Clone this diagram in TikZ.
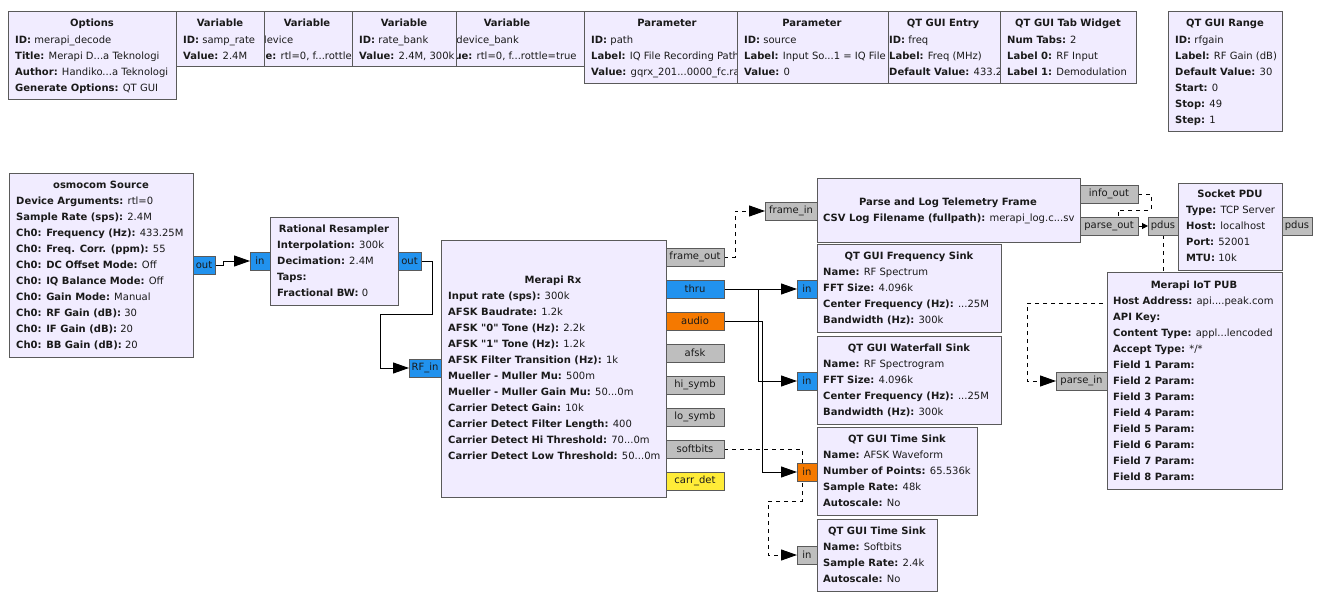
\documentclass[tikz,border=0pt]{standalone}
\usepackage{fontspec}
\newfontfamily\gfont{DejaVu Sans}
\usetikzlibrary{arrows.meta}
\pgfdeclarelayer{bg}
\pgfdeclarelayer{wires}
\pgfsetlayers{bg,wires,main}
\definecolor{blkfill}{HTML}{F1ECFF}
\definecolor{blkline}{HTML}{5A5A5A}
\definecolor{pblue}{RGB}{33,146,238}
\definecolor{porange}{RGB}{245,121,0}
\definecolor{pgray}{RGB}{190,190,190}
\definecolor{pyellow}{RGB}{255,236,56}
\definecolor{txt}{HTML}{1A1A1A}
\newcommand\gf{\gfont\fontsize{10}{16}\selectfont}
\newcommand\kv[2]{\textbf{#1:} #2}
\tikzset{
  blk/.style={draw=blkline, fill=blkfill, line width=1pt, inner sep=0pt, outer sep=0pt, anchor=north west},
  prt/.style={draw=blkline, line width=1pt, inner sep=0pt, outer sep=0pt, anchor=north west, font=\gf, text=txt},
  ttl/.style={anchor=base, inner sep=0pt, font=\gf\bfseries, text=txt},
  body/.style={anchor=north west, align=left, inner sep=0pt, font=\gf, text=txt},
  wire/.style={draw=black, line width=1pt},
  msg/.style={wire, dash pattern=on 4pt off 4pt},
  tip/.style={-{Triangle[length=16pt,width=11pt]}},
  smalltip/.style={-{Triangle[length=6pt,width=6pt]}},
}
\newcommand\gblock[5]{\node[blk, minimum width={#4-#2}, minimum height={#5-#3}] (#1) at (#2,#3) {};}
\newcommand\gport[7]{\node[prt, fill=#6, minimum width={#4-#2}, minimum height={#5-#3}] (#1) at (#2,#3) {#7};}
\newcommand\gtitle[4]{\node[ttl] (#1) at (#2,#3+4) {#4};}
\newcommand\gbody[4]{\node[body] (#1) at (#2,#3-6) {\rule{0pt}{10pt}#4};}
\begin{document}
\begin{tikzpicture}[x=1pt,y=-1pt]
\useasboundingbox (0,0) rectangle (1327,599);
\begin{pgfonlayer}{bg}
\fill[white] (0,0) rectangle (1327,599);
\end{pgfonlayer}

% ---------------- top row ----------------
\gblock{opt}{8}{12}{176}{100}
\gtitle{optT}{92}{23}{Options}
\gbody{optB}{15}{39}{\kv{ID}{merapi\_decode}\\\kv{Title}{Merapi D...a Teknologi}\\\kv{Author}{Handiko...a Teknologi}\\\kv{Generate Options}{QT GUI}}

\gblock{vdev}{234}{12}{380}{67}
\gtitle{vdevT}{307}{23}{Variable}
\gbody{vdevB}{241}{39}{\kv{ID}{device}\\\kv{Value}{rtl=0, f...rottle=true}}

\gblock{vdb}{430}{12}{584}{67}
\gtitle{vdbT}{507}{23}{Variable}
\gbody{vdbB}{437}{39}{\kv{ID}{device\_bank}\\\kv{Value}{rtl=0, f...rottle=true}}

\gblock{vsr}{176}{12}{264}{67}
\gtitle{vsrT}{220}{23}{Variable}
\gbody{vsrB}{183}{39}{\kv{ID}{samp\_rate}\\\kv{Value}{2.4M}}

\gblock{vrb}{352}{12}{456}{67}
\gtitle{vrbT}{404}{23}{Variable}
\gbody{vrbB}{359}{39}{\kv{ID}{rate\_bank}\\\kv{Value}{2.4M, 300k}}

\gblock{ppath}{584}{12}{750}{84}
\gtitle{ppathT}{667}{23}{Parameter}
\gbody{ppathB}{591}{39}{\kv{ID}{path}\\\kv{Label}{IQ File Recording Path}\\\kv{Value}{gqrx\_201...0000\_fc.raw}}

\gblock{qent}{882}{12}{1000}{84}
\gtitle{qentT}{943}{23}{QT GUI Entry}
\gbody{qentB}{889}{39}{\kv{ID}{freq}\\\kv{Label}{Freq (MHz)}\\\kv{Default Value}{433.25}}

\gblock{psrc}{737}{12}{888}{84}
\gtitle{psrcT}{812}{23}{Parameter}
\gbody{psrcB}{744}{39}{\kv{ID}{source}\\\kv{Label}{Input So...1 = IQ File}\\\kv{Value}{0}}

\gblock{qtab}{1000}{12}{1136}{84}
\gtitle{qtabT}{1068}{23}{QT GUI Tab Widget}
\gbody{qtabB}{1007}{39}{\kv{Num Tabs}{2}\\\kv{Label 0}{RF Input}\\\kv{Label 1}{Demodulation}}

\gblock{qrng}{1168}{12}{1282}{132}
\gtitle{qrngT}{1225}{23}{QT GUI Range}
\gbody{qrngB}{1175}{39}{\kv{ID}{rfgain}\\\kv{Label}{RF Gain (dB)}\\\kv{Default Value}{30}\\\kv{Start}{0}\\\kv{Stop}{49}\\\kv{Step}{1}}

% ---------------- flow graph ----------------
\gblock{osmo}{9}{173}{193}{357}
\gtitle{osmoT}{101}{184}{osmocom Source}
\gbody{osmoB}{16}{200}{\kv{Device Arguments}{rtl=0}\\\kv{Sample Rate (sps)}{2.4M}\\\kv{Ch0: Frequency (Hz)}{433.25M}\\\kv{Ch0: Freq. Corr. (ppm)}{55}\\\kv{Ch0: DC Offset Mode}{Off}\\\kv{Ch0: IQ Balance Mode}{Off}\\\kv{Ch0: Gain Mode}{Manual}\\\kv{Ch0: RF Gain (dB)}{30}\\\kv{Ch0: IF Gain (dB)}{20}\\\kv{Ch0: BB Gain (dB)}{20}}
\gport{osout}{193}{256}{215}{274}{pblue}{out}

\gblock{rs}{270}{217}{398}{305}
\gtitle{rsT}{334}{228}{Rational Resampler}
\gbody{rsB}{277}{244}{\kv{Interpolation}{300k}\\\kv{Decimation}{2.4M}\\\textbf{Taps:}\\\kv{Fractional BW}{0}}
\gport{rsin}{250}{252}{270}{270}{pblue}{in}
\gport{rsout}{398}{252}{421}{270}{pblue}{out}

\gblock{rx}{441}{240}{666}{497}
\gtitle{rxT}{553}{279}{Merapi Rx}
\gbody{rxB}{448}{295}{\kv{Input rate (sps)}{300k}\\\kv{AFSK Baudrate}{1.2k}\\\kv{AFSK "0" Tone (Hz)}{2.2k}\\\kv{AFSK "1" Tone (Hz)}{1.2k}\\\kv{AFSK Filter Transition (Hz)}{1k}\\\kv{Mueller - Muller Mu}{500m}\\\kv{Mueller - Muller Gain Mu}{50...0m}\\\kv{Carrier Detect Gain}{10k}\\\kv{Carrier Detect Filter Length}{400}\\\kv{Carrier Detect Hi Threshold}{70...0m}\\\kv{Carrier Detect Low Threshold}{50...0m}}
\gport{rfin}{409}{359}{441}{377}{pblue}{RF\_in}
\gport{frameout}{666}{248}{724}{266}{pgray}{frame\_out}
\gport{thru}{666}{280}{724}{298}{pblue}{thru}
\gport{audio}{666}{312}{724}{330}{porange}{audio}
\gport{afsk}{666}{344}{724}{362}{pgray}{afsk}
\gport{hisymb}{666}{376}{724}{394}{pgray}{hi\_symb}
\gport{losymb}{666}{408}{724}{426}{pgray}{lo\_symb}
\gport{softbits}{666}{440}{724}{458}{pgray}{softbits}
\gport{carrdet}{666}{472}{724}{490}{pyellow}{carr\_det}

\gblock{plog}{817}{178}{1080}{242}
\gtitle{plogT}{948}{201}{Parse and Log Telemetry Frame}
\gbody{plogB}{823}{217}{\kv{CSV Log Filename (fullpath)}{merapi\_log.c...sv}}
\gport{framein}{765}{202}{817}{220}{pgray}{frame\_in}
\gport{infoout}{1080}{185}{1138}{203}{pgray}{info\_out}
\gport{parseout}{1080}{217}{1138}{235}{pgray}{parse\_out}

\gblock{sock}{1178}{183}{1282}{270}
\gtitle{sockT}{1230}{193}{Socket PDU}
\gbody{sockB}{1186}{209}{\kv{Type}{TCP Server}\\\kv{Host}{localhost}\\\kv{Port}{52001}\\\kv{MTU}{10k}}
\gport{pdusin}{1148}{217}{1178}{235}{pgray}{pdus}
\gport{pdusout}{1282}{217}{1312}{235}{pgray}{pdus}

\gblock{iot}{1107}{272}{1282}{489}
\gtitle{iotT}{1194}{284}{Merapi IoT PUB}
\gbody{iotB}{1113}{300}{\kv{Host Address}{api....peak.com}\\\textbf{API Key:}\\\kv{Content Type}{appl...lencoded}\\\kv{Accept Type}{*/*}\\\textbf{Field 1 Param:}\\\textbf{Field 2 Param:}\\\textbf{Field 3 Param:}\\\textbf{Field 4 Param:}\\\textbf{Field 5 Param:}\\\textbf{Field 6 Param:}\\\textbf{Field 7 Param:}\\\textbf{Field 8 Param:}}
\gport{parsein}{1056}{372}{1107}{390}{pgray}{parse\_in}

\gblock{fsink}{817}{244}{1001}{332}
\gtitle{fsinkT}{909}{255}{QT GUI Frequency Sink}
\gbody{fsinkB}{823}{271}{\kv{Name}{RF Spectrum}\\\kv{FFT Size}{4.096k}\\\kv{Center Frequency (Hz)}{...25M}\\\kv{Bandwidth (Hz)}{300k}}
\gport{fsin}{797}{280}{817}{298}{pblue}{in}

\gblock{wsink}{817}{336}{1001}{424}
\gtitle{wsinkT}{909}{347}{QT GUI Waterfall Sink}
\gbody{wsinkB}{823}{363}{\kv{Name}{RF Spectrogram}\\\kv{FFT Size}{4.096k}\\\kv{Center Frequency (Hz)}{...25M}\\\kv{Bandwidth (Hz)}{300k}}
\gport{wfin}{797}{372}{817}{390}{pblue}{in}

\gblock{tsink}{817}{427}{977}{515}
\gtitle{tsinkT}{897}{438}{QT GUI Time Sink}
\gbody{tsinkB}{823}{454}{\kv{Name}{AFSK Waveform}\\\kv{Number of Points}{65.536k}\\\kv{Sample Rate}{48k}\\\kv{Autoscale}{No}}
\gport{tsin}{797}{463}{817}{481}{porange}{in}

\gblock{ssink}{817}{519}{937}{591}
\gtitle{ssinkT}{877}{530}{QT GUI Time Sink}
\gbody{ssinkB}{823}{546}{\kv{Name}{Softbits}\\\kv{Sample Rate}{2.4k}\\\kv{Autoscale}{No}}
\gport{sbin}{797}{546}{817}{564}{pgray}{in}

% ---------------- connections ----------------
\coordinate (j1) at (380,314);
\coordinate (j2) at (768,501);
\coordinate (j3) at (1118,226);
\coordinate (j4) at (1027,303);
\begin{pgfonlayer}{wires}
\draw[wire,tip] (osout.east) -- ++(8,0) |- (rsin.west);
\draw[wire,tip] (rsout.east) -- ++(11,0) |- (j1) |- (rfin.west);
\draw[msg,tip] (frameout.east) -- ++(11,0) |- (framein.west);
\draw[wire,tip] (thru.east) -- (fsin.west);
\draw[wire,tip] (thru.east) -- ++(34,0) |- (wfin.west);
\draw[wire,tip] (audio.east) -- ++(38,0) |- (tsin.west);
\draw[msg,tip] (softbits.east) -- ++(78,0) |- (j2) |- (sbin.west);
\draw[wire,smalltip] (parseout.east) -- (pdusin.west);
\draw[msg] (infoout.east) -- ++(13,0) -- ++(0,16) -| (j3);
\draw[msg,tip] (pdusin.south) |- (j4) |- (parsein.west);
\end{pgfonlayer}
\end{tikzpicture}
\end{document}
